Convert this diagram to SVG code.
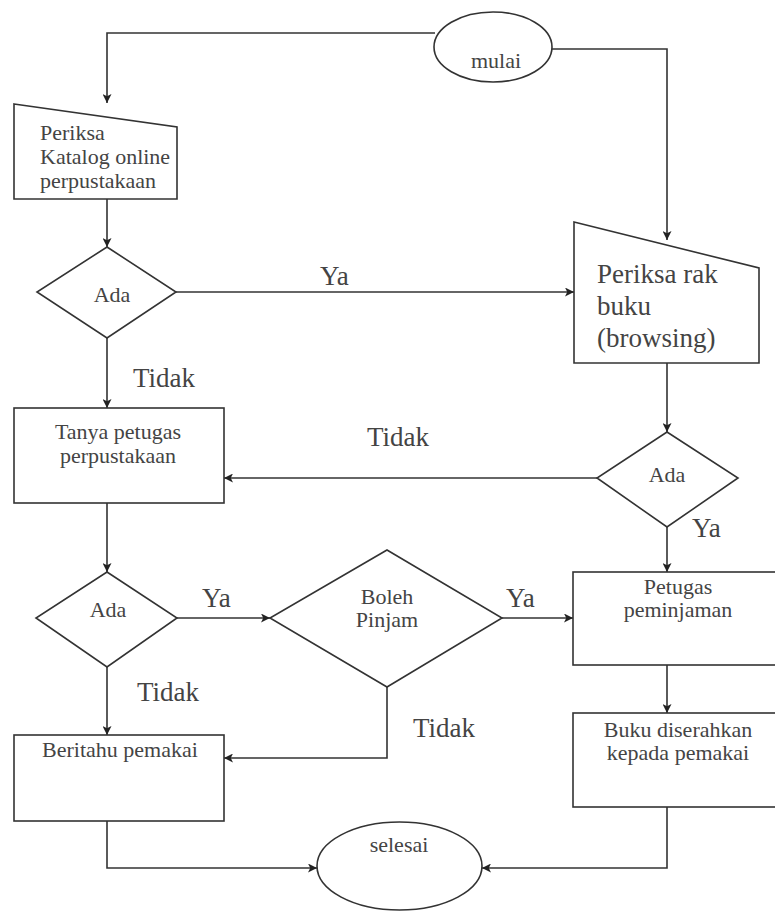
<svg xmlns="http://www.w3.org/2000/svg" width="775" height="911" viewBox="0 0 775 911" font-family="Liberation Serif, DejaVu Serif, serif">
<style>
.s{fill:#fff;stroke:#333;stroke-width:1.6}
.c{fill:none;stroke:#333;stroke-width:1.6}
text{fill:#444}
.n{font-size:22px}
.l{font-size:27px}
.m{text-anchor:middle}
</style>
<defs>
<marker id="a" viewBox="0 0 10 10" refX="10" refY="5" markerWidth="9" markerHeight="9" markerUnits="userSpaceOnUse" orient="auto">
<path d="M0,0 L10,5 L0,10 L2.5,5 Z" fill="#222"/>
</marker>
</defs>
<rect width="775" height="911" fill="#fff"/>
<g id="connectors">
<polyline class="c" points="435,33 107,33 107,103" marker-end="url(#a)"/>
<polyline class="c" points="551,49 667,49 667,240" marker-end="url(#a)"/>
<line class="c" x1="107" y1="199" x2="107" y2="247" marker-end="url(#a)"/>
<line class="c" x1="176" y1="292" x2="574" y2="292" marker-end="url(#a)"/>
<line class="c" x1="107" y1="338" x2="107" y2="408" marker-end="url(#a)"/>
<line class="c" x1="667" y1="363" x2="667" y2="432" marker-end="url(#a)"/>
<line class="c" x1="597" y1="478" x2="224" y2="478" marker-end="url(#a)"/>
<line class="c" x1="667" y1="527" x2="667" y2="572" marker-end="url(#a)"/>
<line class="c" x1="107" y1="503" x2="107" y2="572" marker-end="url(#a)"/>
<line class="c" x1="177" y1="618" x2="270" y2="618" marker-end="url(#a)"/>
<line class="c" x1="502" y1="618" x2="573" y2="618" marker-end="url(#a)"/>
<line class="c" x1="107" y1="667" x2="107" y2="735" marker-end="url(#a)"/>
<polyline class="c" points="387,687 387,758 224,758" marker-end="url(#a)"/>
<line class="c" x1="667" y1="665" x2="667" y2="713" marker-end="url(#a)"/>
<polyline class="c" points="107,821 107,868 317,868" marker-end="url(#a)"/>
<polyline class="c" points="667,807 667,868 482,868" marker-end="url(#a)"/>
<text class="l" x="320" y="285">Ya</text>
<text class="l" x="133" y="387">Tidak</text>
<text class="l" x="367" y="446">Tidak</text>
<text class="l" x="692" y="537">Ya</text>
<text class="l" x="202" y="607">Ya</text>
<text class="l" x="506" y="607">Ya</text>
<text class="l" x="137" y="701">Tidak</text>
<text class="l" x="413" y="737">Tidak</text>
</g>
<g id="mulai">
<ellipse class="s" cx="493" cy="47" rx="59" ry="35"/>
<text class="n m" x="496" y="68">mulai</text>
</g>
<g id="katalog">
<polygon class="s" points="14,104 177,127 177,199 14,199"/>
<text class="n" x="40" y="140">Periksa</text>
<text class="n" x="40" y="164">Katalog online</text>
<text class="n" x="40" y="188">perpustakaan</text>
</g>
<g id="ada1">
<polygon class="s" points="107,247 176,292 107,338 37,292"/>
<text class="n m" x="112" y="302">Ada</text>
</g>
<g id="rak">
<polygon class="s" points="574,222 759,268 759,363 574,363"/>
<text class="l" x="597" y="283">Periksa rak</text>
<text class="l" x="597" y="315">buku</text>
<text class="l" x="597" y="347">(browsing)</text>
</g>
<g id="tanya">
<rect class="s" x="14" y="408" width="210" height="95"/>
<text class="n m" x="118" y="439">Tanya petugas</text>
<text class="n m" x="118" y="463">perpustakaan</text>
</g>
<g id="ada2">
<polygon class="s" points="667,432 738,478 667,527 597,478"/>
<text class="n m" x="667" y="482">Ada</text>
</g>
<g id="ada3">
<polygon class="s" points="107,572 177,618 107,667 36,618"/>
<text class="n m" x="108" y="617">Ada</text>
</g>
<g id="boleh">
<polygon class="s" points="387,550 502,618 387,687 270,618"/>
<text class="n m" x="387" y="604">Boleh</text>
<text class="n m" x="387" y="627">Pinjam</text>
</g>
<g id="petugas">
<rect class="s" x="573" y="572" width="210" height="93"/>
<text class="n m" x="678" y="594">Petugas</text>
<text class="n m" x="678" y="617">peminjaman</text>
</g>
<g id="beritahu">
<rect class="s" x="14" y="735" width="210" height="86"/>
<text class="n" x="42" y="757">Beritahu pemakai</text>
</g>
<g id="buku">
<rect class="s" x="573" y="713" width="210" height="94"/>
<text class="n m" x="678" y="737">Buku diserahkan</text>
<text class="n m" x="678" y="760">kepada pemakai</text>
</g>
<g id="selesai">
<ellipse class="s" cx="399.5" cy="866" rx="82.5" ry="44"/>
<text class="n m" x="399" y="852">selesai</text>
</g>
</svg>
